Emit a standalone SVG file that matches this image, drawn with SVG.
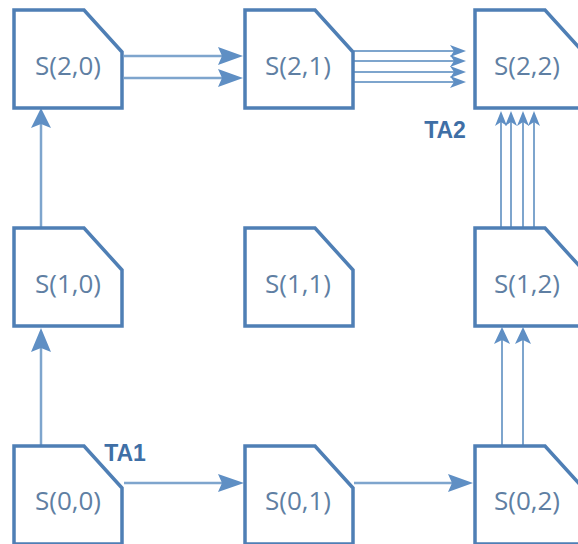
<svg xmlns="http://www.w3.org/2000/svg" width="578" height="544" viewBox="0 0 578 544">
<style>
.box{fill:#ffffff;stroke:#4f7fb5;stroke-width:3.5;stroke-linejoin:miter}
.lbl{font-family:"Open Sans","Liberation Sans",sans-serif;font-size:26px;fill:#5f7fa3;text-anchor:middle}
.ta{font-family:"Liberation Sans","Open Sans",sans-serif;font-size:23px;font-weight:bold;fill:#3f6fa6;text-anchor:middle}
.ln{stroke:#7ea5cd;stroke-width:2.5;fill:none}
.ln2{stroke:#7ea5cd;stroke-width:2;fill:none}
.ah{fill:#5f8fc4}
</style>
<rect width="578" height="544" fill="#ffffff"/>
<g id="connectors">
  <line class="ln" x1="124" y1="483" x2="222" y2="483"/>
  <polygon class="ah" points="244,483 218,474 222,483 218,492"/>
  <line class="ln" x1="354" y1="483" x2="452" y2="483"/>
  <polygon class="ah" points="473,483 448,474 452,483 448,492"/>
  <line class="ln" x1="41" y1="446" x2="41" y2="348"/>
  <polygon class="ah" points="41,328 31,352 41,348 51,352"/>
  <line class="ln" x1="41" y1="228" x2="41" y2="124"/>
  <polygon class="ah" points="41,108 31,128 41,124 51,128"/>
  <line class="ln" x1="124" y1="56" x2="222" y2="56"/>
  <polygon class="ah" points="243,56 218,47 222,56 218,65"/>
  <line class="ln" x1="124" y1="78" x2="222" y2="78"/>
  <polygon class="ah" points="243,78 218,69 222,78 218,87"/>
  <line class="ln2" x1="354" y1="51" x2="455" y2="51"/>
  <polygon class="ah" points="466,51 450,45 454,51 450,57"/>
  <line class="ln2" x1="354" y1="61" x2="455" y2="61"/>
  <polygon class="ah" points="466,61 450,55 454,61 450,67"/>
  <line class="ln2" x1="354" y1="72" x2="455" y2="72"/>
  <polygon class="ah" points="466,72 450,66 454,72 450,78"/>
  <line class="ln2" x1="354" y1="82" x2="455" y2="82"/>
  <polygon class="ah" points="466,82 450,76 454,82 450,88"/>
  <line class="ln2" x1="501" y1="228" x2="501" y2="122"/>
  <polygon class="ah" points="501,111 495,126 501,122 507,126"/>
  <line class="ln2" x1="511" y1="228" x2="511" y2="122"/>
  <polygon class="ah" points="511,111 505,126 511,122 517,126"/>
  <line class="ln2" x1="523" y1="228" x2="523" y2="122"/>
  <polygon class="ah" points="523,111 517,126 523,122 529,126"/>
  <line class="ln2" x1="534" y1="228" x2="534" y2="122"/>
  <polygon class="ah" points="534,111 528,126 534,122 540,126"/>
  <line class="ln2" x1="502" y1="446" x2="502" y2="340"/>
  <polygon class="ah" points="502,327 494,344 502,340 510,344"/>
  <line class="ln2" x1="523" y1="446" x2="523" y2="340"/>
  <polygon class="ah" points="523,327 515,344 523,340 531,344"/>
</g>
<g id="S20"><path class="box" d="M14,10 H84 L122,52 V108 H14 Z"/><text class="lbl" x="68" y="75">S(2,0)</text></g>
<g id="S21"><path class="box" d="M245,10 H315 L353,52 V108 H245 Z"/><text class="lbl" x="298" y="75">S(2,1)</text></g>
<g id="S22"><path class="box" d="M475,10 H545 L583,52 V108 H475 Z"/><text class="lbl" x="527" y="75">S(2,2)</text></g>
<g id="S10"><path class="box" d="M14,228 H84 L122,270 V326 H14 Z"/><text class="lbl" x="68" y="293">S(1,0)</text></g>
<g id="S11"><path class="box" d="M245,228 H315 L353,270 V326 H245 Z"/><text class="lbl" x="298" y="293">S(1,1)</text></g>
<g id="S12"><path class="box" d="M475,228 H545 L583,270 V326 H475 Z"/><text class="lbl" x="527" y="293">S(1,2)</text></g>
<g id="S00"><path class="box" d="M14,446 H84 L122,488 V544 H14 Z"/><text class="lbl" x="68" y="510">S(0,0)</text></g>
<g id="S01"><path class="box" d="M245,446 H315 L353,488 V544 H245 Z"/><text class="lbl" x="298" y="510">S(0,1)</text></g>
<g id="S02"><path class="box" d="M475,446 H545 L583,488 V544 H475 Z"/><text class="lbl" x="527" y="510">S(0,2)</text></g>
<text class="ta" x="445" y="138">TA2</text>
<text class="ta" x="125" y="461">TA1</text>
</svg>
